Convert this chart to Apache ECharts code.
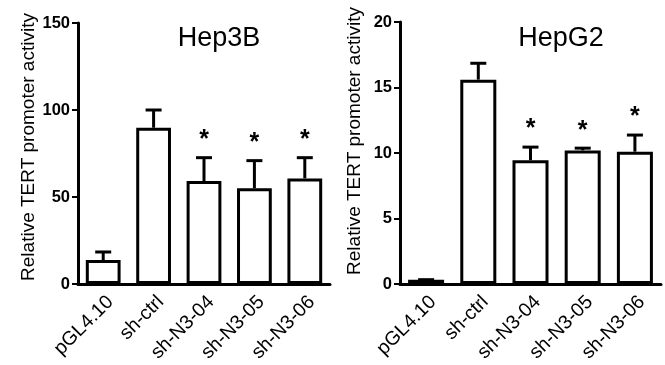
<!DOCTYPE html>
<html>
<head>
<meta charset="utf-8">
<script src="https://cdn.jsdelivr.net/npm/echarts@6/dist/echarts.min.js"></script>
<style>html,body{margin:0;padding:0;background:#fff;}#c{width:665px;height:365px;}</style>
</head>
<body>
<div id="c"></div>
<script>
var categories = ['pGL4.10', 'sh-ctrl', 'sh-N3-04', 'sh-N3-05', 'sh-N3-06'];
var hep3bMean = [13.8, 89.8, 59.2, 55.0, 60.7];
var hep3bErr = [4.6, 10.2, 13.4, 15.9, 11.9];
var hepg2Mean = [0.33, 15.6, 9.45, 10.2, 10.1];
var hepg2Err = [0, 1.25, 1.0, 0.17, 1.27];
var significance = ['', '', '*', '*', '*'];
var titles = ['Hep3B', 'HepG2'];
var yTitle = 'Relative TERT promoter activity';

var FONT = 'Liberation Sans, Arial, sans-serif';
var chart = echarts.init(document.getElementById('c'), null, {renderer: 'canvas'});

function errData(mean, err) {
  return mean.map(function (m, i) { return [i, m, m + err[i], significance[i]]; });
}

function errRender(params, api) {
  var x = api.value(0), m = api.value(1), top = api.value(2), sig = api.value(3);
  var p0 = api.coord([x, m]);
  var p1 = api.coord([x, top]);
  var children = [];
  children.push({type: 'line', shape: {x1: p0[0], y1: p0[1], x2: p1[0], y2: p1[1]}, style: {stroke: '#000', lineWidth: 3}});
  children.push({type: 'line', shape: {x1: p1[0] - 8, y1: p1[1], x2: p1[0] + 8, y2: p1[1]}, style: {stroke: '#000', lineWidth: 3}});
  if (sig) {
    children.push({type: 'text', x: p1[0], y: p1[1] - 5, style: {text: sig, fill: '#000', font: 'bold 25px ' + FONT, align: 'center', verticalAlign: 'bottom'}});
  }
  return {type: 'group', children: children};
}

function xAxis(gi) {
  return {
    type: 'category', gridIndex: gi, data: categories,
    axisLine: {lineStyle: {color: '#000', width: 3}},
    axisTick: {alignWithLabel: true, length: 6, lineStyle: {color: '#000', width: 2}},
    axisLabel: {rotate: 45, interval: 0, color: '#000', fontSize: 19.5, fontFamily: FONT, margin: 8,
                align: 'right', verticalAlign: 'top'}
  };
}
function yAxis(gi, max, interval) {
  return {
    type: 'value', gridIndex: gi, min: 0, max: max, interval: interval,
    splitLine: {show: false},
    axisLine: {show: true, lineStyle: {color: '#000', width: 3}},
    axisTick: {show: true, length: 6, lineStyle: {color: '#000', width: 2}},
    axisLabel: {color: '#000', fontSize: 16.5, fontWeight: 'bold', fontFamily: FONT, margin: 8}
  };
}

function yName(x, y) {
  return {type: 'text', x: x, y: y, rotation: Math.PI / 2,
    style: {text: yTitle, fill: '#000', font: '19px ' + FONT, align: 'center', verticalAlign: 'middle'}};
}

var option = {
  animation: false,
  backgroundColor: '#fff',
  title: [
    {text: titles[0], left: 214, top: 20, textAlign: 'center', textStyle: {fontSize: 27, fontWeight: 'normal', color: '#000', fontFamily: FONT}},
    {text: titles[1], left: 556, top: 20, textAlign: 'center', textStyle: {fontSize: 27, fontWeight: 'normal', color: '#000', fontFamily: FONT}}
  ],
  graphic: [yName(29, 147), yName(355, 141)],
  grid: [
    {left: 78, top: 23, width: 252, bottom: 81},
    {left: 400, top: 22, width: 261, bottom: 81}
  ],
  xAxis: [xAxis(0), xAxis(1)],
  yAxis: [yAxis(0, 150, 50), yAxis(1, 20, 5)],
  series: [
    {type: 'bar', xAxisIndex: 0, yAxisIndex: 0, data: hep3bMean, barWidth: '69%',
     itemStyle: {color: '#fff', borderColor: '#000', borderWidth: 3}},
    {type: 'custom', xAxisIndex: 0, yAxisIndex: 0, data: errData(hep3bMean, hep3bErr), renderItem: errRender, z: 1},
    {type: 'bar', xAxisIndex: 1, yAxisIndex: 1, data: hepg2Mean, barWidth: '69%',
     itemStyle: {color: '#fff', borderColor: '#000', borderWidth: 3}},
    {type: 'custom', xAxisIndex: 1, yAxisIndex: 1, data: errData(hepg2Mean, hepg2Err), renderItem: errRender, z: 1}
  ]
};
chart.setOption(option);
</script>
</body>
</html>
